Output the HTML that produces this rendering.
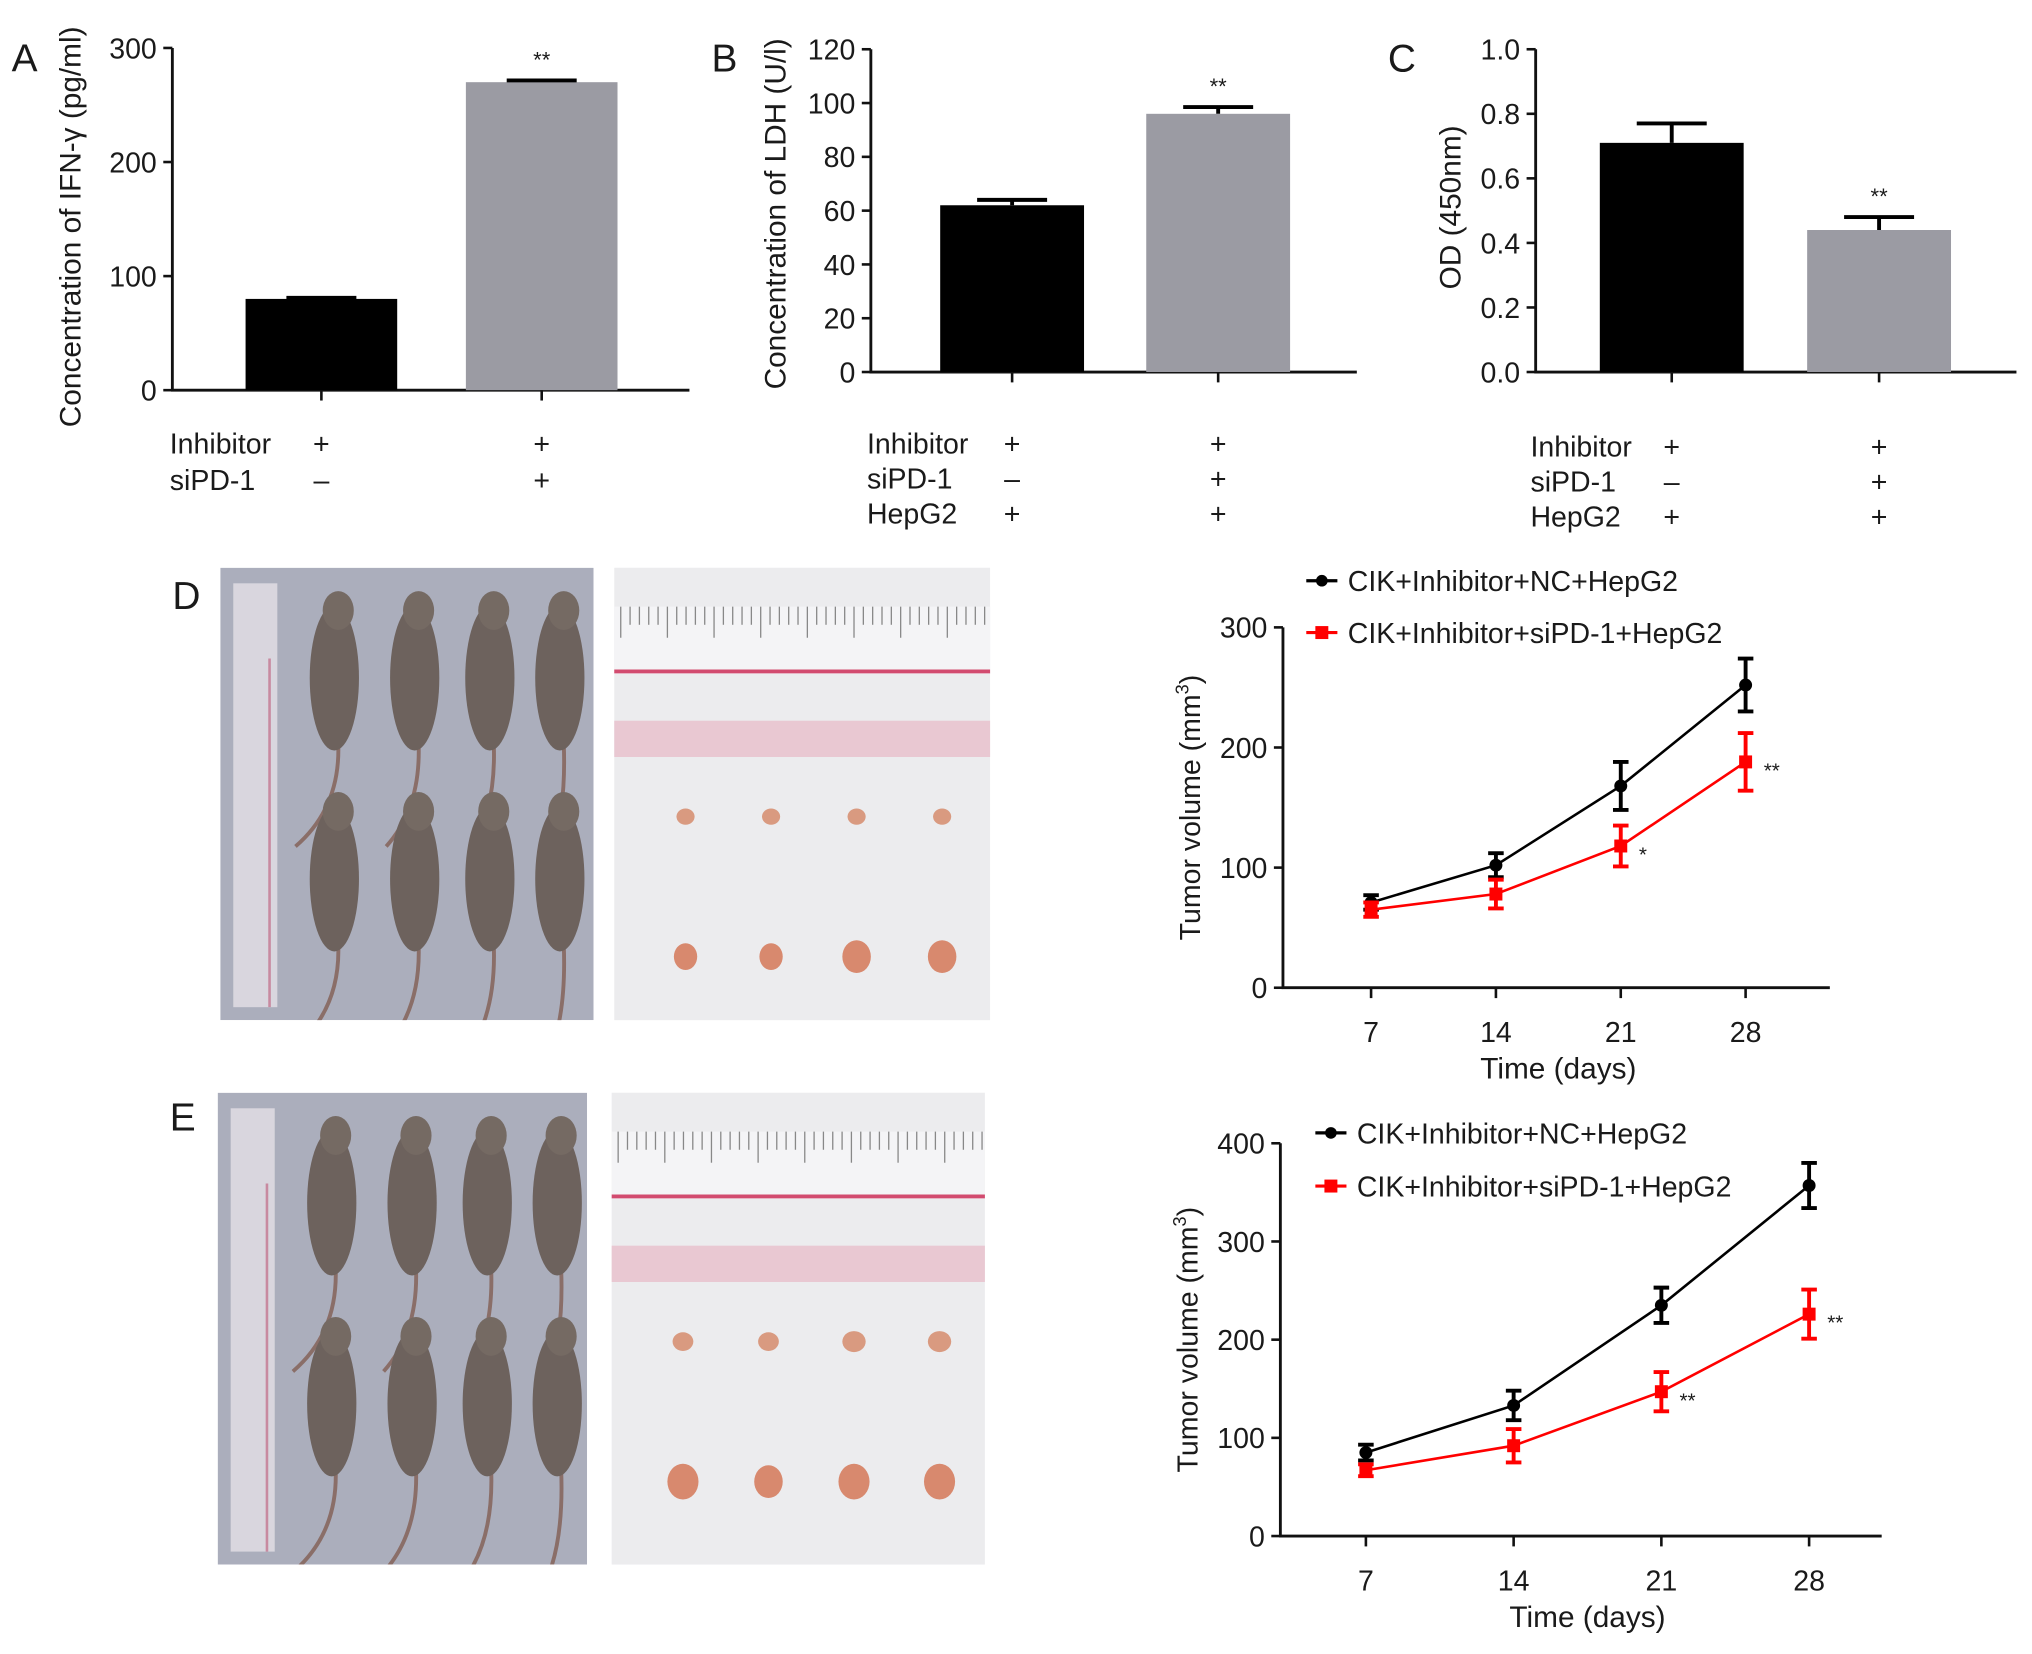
<!DOCTYPE html>
<html><head><meta charset="utf-8"><style>
html,body{margin:0;padding:0;background:#fff}
svg{display:block}
text{font-family:"Liberation Sans",Arial,sans-serif;fill:#1a1a1a}
</style></head><body>
<svg id="fig" width="2032" height="1654" viewBox="0 0 1568 1276" preserveAspectRatio="none" xmlns="http://www.w3.org/2000/svg">
<defs>
<clipPath id="clipD"><rect x="170" y="438" width="288" height="349"/></clipPath>
<clipPath id="clipE"><rect x="168" y="843" width="285" height="364"/></clipPath>
</defs>
<rect width="1568" height="1276" fill="#fff"/>
<g id="photos"></g>
<g id="charts"></g>
</svg>
<script>
// ---- Data ----
const aCats = ['ctrl','siPD-1'];
const aVals = [80, 270];
const aErr = [1, 1.5];
const aTicks = [0,100,200,300];
const bVals = [62, 96];
const bErr = [2, 2.5];
const bTicks = [0,20,40,60,80,100,120];
const cVals = [0.71, 0.44];
const cErr = [0.06, 0.04];
const cTicks = [0.0,0.2,0.4,0.6,0.8,1.0];
const cTickLabels = ['0.0','0.2','0.4','0.6','0.8','1.0'];
const days = [7,14,21,28];
const dBlack = [71,102,168,252];
const dBlackErr = [6,10,20,22];
const dRed = [65,78,118,188];
const dRedErr = [6,12,17,24];
const dTicks = [0,100,200,300];
const eBlack = [85,133,235,357];
const eBlackErr = [8,15,18,23];
const eRed = [67,92,147,226];
const eRedErr = [6,17,20,25];
const eTicks = [0,100,200,300,400];

const NS='http://www.w3.org/2000/svg';
const charts=document.getElementById('charts');
function mk(tag,attrs,parent,txt){const e=document.createElementNS(NS,tag);for(const k in attrs)e.setAttribute(k,attrs[k]);if(txt!==undefined)e.textContent=txt;(parent||charts).appendChild(e);return e;}

function barChart(o){
  const g=mk('g',{});
  
  
  const y=v=>o.y0-(v-o.min)/(o.max-o.min)*(o.y0-o.y1);
  const ax=mk('path',{d:`M${o.x0} ${o.y1}V${o.y0}H${o.xEnd}`,stroke:'#111','stroke-width':2.2,fill:'none'},g);
  
  
  o.ticks.forEach((t,i)=>{
    mk('line',{x1:o.x0-7,x2:o.x0,y1:y(t),y2:y(t),stroke:'#111','stroke-width':2},g);
    const tl=mk('text',{x:o.x0-12,y:y(t)+8,'text-anchor':'end','font-size':22},g,o.tickLabels?o.tickLabels[i]:String(t));
    
    
  });
  o.vals.forEach((v,i)=>{
    const cx=o.centers[i];
    const r=mk('rect',{x:cx-o.bw/2,y:y(v),width:o.bw,height:o.y0-y(v),fill:i==0?'#000':'#9b9ba3'},g);
    
    
    const top=y(v+o.err[i]);
    mk('path',{d:`M${cx} ${y(v)}V${top}M${cx-27} ${top}H${cx+27}`,stroke:'#000','stroke-width':3,fill:'none'},g);
    mk('line',{x1:cx,x2:cx,y1:o.y0,y2:o.y0+8,stroke:'#111','stroke-width':2},g);
  });
  const st=mk('text',{x:o.centers[1],y:y(o.vals[1]+o.err[1])-10,'text-anchor':'middle','font-size':17},g,'**');
  
  
  const tt=mk('text',{transform:`translate(${o.titleX},${o.titleY}) rotate(-90)`,'text-anchor':'middle','font-size':23},g,o.title);
  
  
  const pl=mk('text',{x:o.letterX,y:o.letterY,'font-size':30},g,o.letter);
  
  
  o.rows.forEach((row,ri)=>{
    const ly=o.rowY+ri*o.rowGap;
    const lt=mk('text',{x:o.labelX,y:ly,'font-size':22},g,row[0]);
    
    
    [row[1],row[2]].forEach((s,k)=>mk('text',{x:o.centers[k],y:ly,'text-anchor':'middle','font-size':22},g,s));
  });
}
barChart({name:'panel-a-chart',x0:133,xEnd:532,y0:301,y1:37,min:0,max:300,ticks:aTicks,vals:aVals,err:aErr,centers:[248,418],bw:117,
  title:'Concentration of IFN-γ (pg/ml)',titleX:62,titleY:175,letter:'A',letterX:9,letterY:55,
  rows:[['Inhibitor','+','+'],['siPD-1','–','+']],rowY:350,rowGap:28,labelX:131});
barChart({name:'panel-b-chart',x0:672,xEnd:1047,y0:287,y1:38,min:0,max:120,ticks:bTicks,vals:bVals,err:bErr,centers:[781,940],bw:111,
  title:'Concentration of LDH (U/l)',titleX:606,titleY:165,letter:'B',letterX:549,letterY:55,
  rows:[['Inhibitor','+','+'],['siPD-1','–','+'],['HepG2','+','+']],rowY:350,rowGap:27,labelX:669});
barChart({name:'panel-c-chart',x0:1185,xEnd:1556,y0:287,y1:38,min:0,max:1,ticks:cTicks,tickLabels:cTickLabels,vals:cVals,err:cErr,centers:[1290,1450],bw:111,
  title:'OD (450nm)',titleX:1127,titleY:160,letter:'C',letterX:1071,letterY:55,
  rows:[['Inhibitor','+','+'],['siPD-1','–','+'],['HepG2','+','+']],rowY:352,rowGap:27,labelX:1181});

function lineChart(o){
  const g=mk('g',{});
  
  
  const y=v=>o.y0-v/o.max*(o.y0-o.y1);
  const x=d=>o.xa+(d-7)/21*(o.xb-o.xa);
  const ax=mk('path',{d:`M${o.x0} ${o.y1}V${o.y0}H${o.xEnd}`,stroke:'#111','stroke-width':2.2,fill:'none'},g);
  
  
  o.ticks.forEach(t=>{
    mk('line',{x1:o.x0-7,x2:o.x0,y1:y(t),y2:y(t),stroke:'#111','stroke-width':2},g);
    const tl=mk('text',{x:o.x0-12,y:y(t)+8,'text-anchor':'end','font-size':22},g,String(t));
    
    
  });
  days.forEach(d=>{
    mk('line',{x1:x(d),x2:x(d),y1:o.y0,y2:o.y0+8,stroke:'#111','stroke-width':2},g);
    const tl=mk('text',{x:x(d),y:o.y0+42,'text-anchor':'middle','font-size':22},g,String(d));
    
    
  });
  const series=[[o.black,o.blackErr,'#000','circle'],[o.red,o.redErr,'#f00','square']];
  series.forEach(([vals,err,col,mkr],si)=>{
    const p=mk('polyline',{points:vals.map((v,i)=>x(days[i])+','+y(v)).join(' '),stroke:col,'stroke-width':2,fill:'none'},g);
    
    
    vals.forEach((v,i)=>{
      const cx=x(days[i]),t=y(v+err[i]),b=y(v-err[i]);
      mk('path',{d:`M${cx} ${t}V${b}M${cx-6} ${t}H${cx+6}M${cx-6} ${b}H${cx+6}`,stroke:col,'stroke-width':3,fill:'none'},g);
      const m=mkr=='circle'?mk('circle',{cx:cx,cy:y(v),r:5,fill:col},g):mk('rect',{x:cx-5,y:y(v)-5,width:10,height:10,fill:col},g);
      
      
    });
  });
  o.stars.forEach(([i,s])=>{
    const t=mk('text',{x:x(days[i])+14,y:y(o.red[i])+12,'font-size':16},g,s);
    
    
  });
  [[o.leg1Y,'#000','CIK+Inhibitor+NC+HepG2',0],[o.leg2Y,'#f00','CIK+Inhibitor+siPD-1+HepG2',1]].forEach(([ly,col,txt,k])=>{
    const le=mk('g',{},g);
    
    
    mk('line',{x1:o.legX,x2:o.legX+24,y1:ly,y2:ly,stroke:col,'stroke-width':2.5},le);
    if(k==0)mk('circle',{cx:o.legX+12,cy:ly,r:4.5,fill:col},le);else mk('rect',{x:o.legX+7,y:ly-5,width:10,height:10,fill:col},le);
    mk('text',{x:o.legX+32,y:ly+8,'font-size':22},le,txt);
  });
  const tt=mk('text',{transform:`translate(${o.x0-64},${(o.y0+o.y1)/2}) rotate(-90)`,'text-anchor':'middle','font-size':22},g,'Tumor volume (mm');
  const sup=mk('tspan',{'font-size':14,dy:-9},tt,'3');
  mk('tspan',{dy:9},tt,')');
  
  
  const xt=mk('text',{x:(o.xa+o.xb)/2,y:o.y0+70,'text-anchor':'middle','font-size':23},g,'Time (days)');
  
  
}
lineChart({name:'panel-d-chart',x0:990,xEnd:1412,y0:762,y1:484,max:300,ticks:dTicks,xa:1058,xb:1347,
  black:dBlack,blackErr:dBlackErr,red:dRed,redErr:dRedErr,stars:[[2,'*'],[3,'**']],legX:1008,leg1Y:448,leg2Y:488});
lineChart({name:'panel-e-chart',x0:988,xEnd:1452,y0:1185,y1:882,max:400,ticks:eTicks,xa:1054,xb:1396,
  black:eBlack,blackErr:eBlackErr,red:eRed,redErr:eRedErr,stars:[[2,'**'],[3,'**']],legX:1015,leg1Y:874,leg2Y:915});
[['D',133,470],['E',131,872]].forEach(([l,x,y])=>{
  const t=mk('text',{x:x,y:y,'font-size':30},charts,l);
  
  
});

// ---- decorative photos ----
const ph=document.getElementById('photos');
function photo(px,py,w,h,name,clip){
  const g=mk('g',{'clip-path':'url(#'+clip+')'},ph);
  
  
  mk('rect',{x:px,y:py,width:w,height:h,fill:'#abaebc'},g);
  mk('rect',{x:px+10,y:py+12,width:34,height:h-22,fill:'#d9d6de'},g);
  mk('line',{x1:px+38,x2:px+38,y1:py+70,y2:py+h-10,stroke:'#c88aa0','stroke-width':2},g);
  const cols=[88,150,208,262];
  [0,1].forEach(r=>cols.forEach((cx,i)=>{
    const x=px+cx,y=py+(r?180:25);
    mk('path',{d:`M${x+3} ${y+110} Q${x+5} ${y+160} ${x-30+i*8} ${y+190}`,stroke:'#8a6e68','stroke-width':3,fill:'none'},g);
    mk('ellipse',{cx:x,cy:y+60,rx:19,ry:56,fill:'#6d625d'},g);
    mk('ellipse',{cx:x+3,cy:y+8,rx:12,ry:15,fill:'#756a63'},g);
  }));
}
function tumors(px,py,w,h,name,sizes){
  const g=mk('g',{},ph);
  
  
  mk('rect',{x:px,y:py,width:w,height:h,fill:'#ececee'},g);
  mk('rect',{x:px,y:py+30,width:w,height:52,fill:'#f4f4f6'},g);
  for(let i=0;i<40;i++)mk('line',{x1:px+5+i*7.2,x2:px+5+i*7.2,y1:py+30,y2:py+(i%5?44:54),stroke:'#888','stroke-width':1},g);
  mk('line',{x1:px,x2:px+w,y1:py+80,y2:py+80,stroke:'#d24b6f','stroke-width':3},g);
  mk('rect',{x:px,y:py+118,width:w,height:28,fill:'#e9c8d2'},g);
  [0,1,2,3].forEach(i=>{
    mk('ellipse',{cx:px+55+i*66,cy:py+192,rx:sizes[0][i],ry:sizes[0][i]*0.9,fill:'#d99a80'},g);
    mk('ellipse',{cx:px+55+i*66,cy:py+300,rx:sizes[1][i],ry:sizes[1][i]*1.15,fill:'#d8896e'},g);
  });
}
photo(170,438,288,349,'photo-mice-d','clipD');
tumors(474,438,290,349,'photo-tumors-d',[[7,7,7,7],[9,9,11,11]]);
photo(168,843,285,364,'photo-mice-e','clipE');
tumors(472,843,288,364,'photo-tumors-e',[[8,8,9,9],[12,11,12,12]]);
</script>
</body></html>
